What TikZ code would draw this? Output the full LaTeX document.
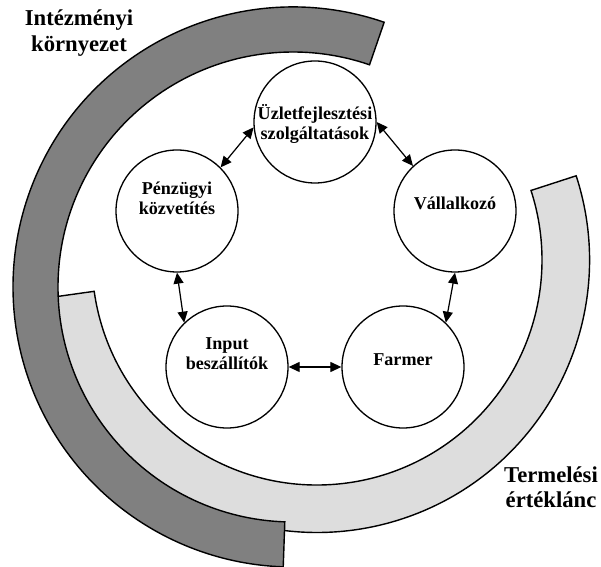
\documentclass[tikz,border=0pt]{standalone}
\usepackage{fontspec}
\setmainfont{Liberation Serif}
\usetikzlibrary{arrows.meta,calc}
\definecolor{instband}{RGB}{128,128,128}
\definecolor{chainband}{RGB}{221,221,221}
\tikzset{
  bandln/.style={draw=black, line width=0.8pt, line join=miter},
  unitcirc/.style={circle, draw, line width=0.75pt, minimum size=2.44cm, inner sep=0pt, fill=white},
  unittext/.style={align=center, font=\fontsize{10.3}{11.3}\selectfont\bfseries, inner sep=0pt},
  bandtext/.style={align=center, font=\fontsize{12.9}{14.4}\selectfont\bfseries, inner sep=0pt},
  linkln/.style={{Triangle[length=2.2mm,width=2mm]}-{Triangle[length=2.2mm,width=2mm]}, line width=0.7pt},
}

\begin{document}
\begin{tikzpicture}
  \useasboundingbox (0,0) rectangle (12.02,11.32);
  % centres of the two bands
  \coordinate (chainc) at (6.34,6.12);
  \coordinate (instc) at (5.86,5.58);
  % production value chain (light band, behind)
  \draw[bandln, fill=chainband] ($(chainc)+(18:5.45)$) arc[start angle=18, end angle=-172, radius=5.45]
    -- ($(chainc)+(-172:4.5)$) arc[start angle=-172, end angle=18, radius=4.5] -- cycle;
  % institutional environment (dark band, in front)
  \draw[bandln, fill=instband] ($(instc)+(71:5.6)$) arc[start angle=71, end angle=268, radius=5.6]
    -- ($(instc)+(268:4.7)$) arc[start angle=268, end angle=71, radius=4.7] -- cycle;
  \node[bandtext] (inst) at (1.58,10.66) {Intézményi\\környezet};
  \node[bandtext] (chain) at (11.02,1.58) {Termelési\\értéklánc};
  % actors
  \node[unitcirc] (uzlet) at (6.30,8.88) {};
  \node[unitcirc] (penz) at (3.54,7.10) {};
  \node[unitcirc] (vall) at (9.10,7.10) {};
  \node[unitcirc] (input) at (4.54,3.98) {};
  \node[unitcirc] (farmer) at (8.06,3.98) {};
  \node[unittext, yshift=-0.04cm] (uzlet-t) at (uzlet) {Üzletfejlesztési\\szolgáltatások};
  \node[unittext, yshift=0.25cm] (penz-t) at (penz) {Pénzügyi\\közvetítés};
  \node[unittext, yshift=0.16cm] (vall-t) at (vall) {Vállalkozó};
  \node[unittext, yshift=0.27cm] (input-t) at (input) {Input\\beszállítók};
  \node[unittext, yshift=0.15cm] (farmer-t) at (farmer) {Farmer};
  % links
  \draw[linkln] (uzlet.185) -- (penz.45);
  \draw[linkln] (uzlet.0) -- (vall.133);
  \draw[linkln] (penz.270) -- (input.134);
  \draw[linkln] (vall.270) -- (farmer.46);
  \draw[linkln] (input.east) -- (farmer.west);
\end{tikzpicture}
\end{document}
